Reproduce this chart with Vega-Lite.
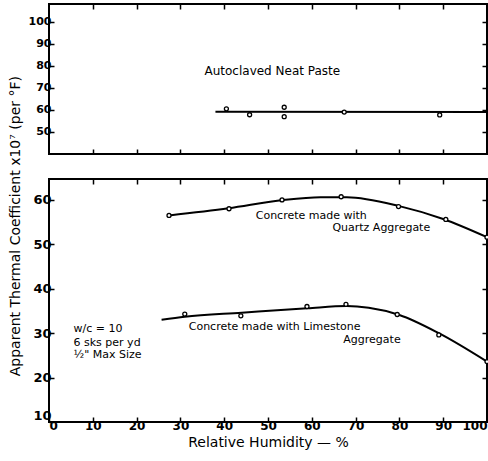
{
  "$schema": "https://vega.github.io/schema/vega-lite/v6.json",
  "background": "white",
  "padding": {"left": 9, "top": 2, "right": 0, "bottom": 0},
  "title": {"text": "Apparent  Thermal  Coefficient x10⁷ (per °F)", "orient": "left", "anchor": "middle", "fontSize": 14, "font": "DejaVu Sans", "fontWeight": "normal", "offset": 4},
  "config": {
    "view": {"stroke": "black", "strokeWidth": 2},
    "font": "DejaVu Sans",
    "axis": {"grid": false, "domain": false, "tickColor": "black", "tickSize": -5, "tickWidth": 1.5, "labelColor": "black", "labelFont": "DejaVu Sans", "labelFontSize": 12, "labelFontWeight": "bold", "labelPadding": 3, "titleColor": "black", "titleFont": "DejaVu Sans", "titleFontWeight": "normal", "titleFontSize": 14}
  },
  "datasets": {
    "topline": [{"rh": 38, "coef": 59.2}, {"rh": 100, "coef": 59.0}],
    "toppts": [
      {"rh": 40.5, "coef": 60.5}, {"rh": 45.8, "coef": 57.8}, {"rh": 53.7, "coef": 61.2},
      {"rh": 53.7, "coef": 56.9}, {"rh": 67.4, "coef": 59.0}, {"rh": 89.2, "coef": 57.7}
    ],
    "quartzcurve": [
      {"rh": 27.4, "coef": 56.5}, {"rh": 41, "coef": 58.1}, {"rh": 53, "coef": 59.9},
      {"rh": 62, "coef": 60.6}, {"rh": 68, "coef": 60.6}, {"rh": 80, "coef": 58.6},
      {"rh": 90, "coef": 55.7}, {"rh": 100, "coef": 51.6}
    ],
    "quartzpts": [
      {"rh": 27.4, "coef": 56.5}, {"rh": 41.1, "coef": 58.0}, {"rh": 53.2, "coef": 60.0},
      {"rh": 66.7, "coef": 60.7}, {"rh": 79.8, "coef": 58.5}, {"rh": 90.6, "coef": 55.6}, {"rh": 100, "coef": 51.6}
    ],
    "limecurve": [
      {"rh": 25.7, "coef": 33.0}, {"rh": 31, "coef": 33.7}, {"rh": 44, "coef": 34.6},
      {"rh": 59, "coef": 35.6}, {"rh": 68, "coef": 36.1}, {"rh": 73, "coef": 35.7},
      {"rh": 80, "coef": 34.1}, {"rh": 89, "coef": 30.0}, {"rh": 100, "coef": 23.6}
    ],
    "limepts": [
      {"rh": 31, "coef": 34.3}, {"rh": 43.8, "coef": 33.9}, {"rh": 58.9, "coef": 36.0},
      {"rh": 67.8, "coef": 36.5}, {"rh": 79.5, "coef": 34.2}, {"rh": 89, "coef": 29.6}, {"rh": 100, "coef": 23.6}
    ],
    "toplabels": [{"rh": 35.5, "coef": 77.7, "label": "Autoclaved  Neat  Paste"}],
    "botlabels": [
      {"rh": 47.2, "coef": 56.4, "label": "Concrete made with"},
      {"rh": 64.7, "coef": 53.7, "label": "Quartz Aggregate"},
      {"rh": 31.9, "coef": 31.3, "label": "Concrete made with Limestone"},
      {"rh": 67.2, "coef": 28.4, "label": "Aggregate"},
      {"rh": 5.6, "coef": 30.9, "label": "w/c = 10"},
      {"rh": 5.6, "coef": 27.8, "label": "6 sks per yd"},
      {"rh": 5.6, "coef": 25.0, "label": "½\" Max Size"}
    ]
  },
  "vconcat": [
    {
      "width": 438,
      "height": 150,
      "resolve": {"axis": {"x": "independent", "y": "independent"}},
      "layer": [
        {
          "data": {"name": "topline"},
          "mark": {"type": "line", "color": "black", "strokeWidth": 2},
          "encoding": {
            "x": {"field": "rh", "type": "quantitative", "scale": {"domain": [0, 100], "nice": false}, "axis": {"orient": "bottom", "labels": false, "title": null, "values": [10, 20, 30, 40, 50, 60, 70, 80, 90]}},
            "y": {"field": "coef", "type": "quantitative", "scale": {"domain": [40, 108], "nice": false}, "axis": {"orient": "left", "title": null, "values": [50, 60, 70, 80, 90, 100], "labelFontSize": 11}}
          }
        },
        {
          "data": {"name": "toppts"},
          "mark": {"type": "point", "shape": "circle", "size": 16, "color": "black", "fill": "white", "filled": true, "stroke": "black", "strokeWidth": 1.3, "opacity": 1},
          "encoding": {
            "x": {"field": "rh", "type": "quantitative", "scale": {"domain": [0, 100], "nice": false}, "axis": {"orient": "top", "labels": false, "title": null, "values": [10, 20, 30, 40, 50, 60, 70, 80, 90]}},
            "y": {"field": "coef", "type": "quantitative", "scale": {"domain": [40, 108], "nice": false}, "axis": {"orient": "right", "labels": false, "title": null, "values": [50, 60, 70, 80, 90, 100]}}
          }
        },
        {
          "data": {"name": "toplabels"},
          "mark": {"type": "text", "align": "left", "baseline": "middle", "fontSize": 12, "color": "black"},
          "encoding": {
            "x": {"field": "rh", "type": "quantitative", "scale": {"domain": [0, 100], "nice": false}, "axis": null},
            "y": {"field": "coef", "type": "quantitative", "scale": {"domain": [40, 108], "nice": false}, "axis": null},
            "text": {"field": "label"}
          }
        }
      ]
    },
    {
      "width": 438,
      "height": 243,
      "resolve": {"axis": {"x": "independent", "y": "independent"}},
      "layer": [
        {
          "data": {"name": "quartzcurve"},
          "mark": {"type": "line", "color": "black", "strokeWidth": 2, "interpolate": "monotone"},
          "encoding": {
            "x": {"field": "rh", "type": "quantitative", "scale": {"domain": [0, 100], "nice": false}, "axis": {"orient": "bottom", "title": "Relative Humidity — %", "values": [0, 10, 20, 30, 40, 50, 60, 70, 80, 90, 100], "titlePadding": 4, "labelFlush": true}},
            "y": {"field": "coef", "type": "quantitative", "scale": {"domain": [10, 64.7], "nice": false}, "axis": {"orient": "left", "title": null, "values": [10, 20, 30, 40, 50, 60], "labelFontSize": 13, "labelFlush": true}}
          }
        },
        {
          "data": {"name": "limecurve"},
          "mark": {"type": "line", "color": "black", "strokeWidth": 2, "interpolate": "monotone"},
          "encoding": {
            "x": {"field": "rh", "type": "quantitative", "scale": {"domain": [0, 100], "nice": false}, "axis": {"orient": "top", "labels": false, "title": null, "values": [10, 20, 30, 40, 50, 60, 70, 80, 90]}},
            "y": {"field": "coef", "type": "quantitative", "scale": {"domain": [10, 64.7], "nice": false}, "axis": {"orient": "right", "labels": false, "title": null, "values": [20, 30, 40, 50, 60]}}
          }
        },
        {
          "data": {"name": "quartzpts"},
          "mark": {"type": "point", "shape": "circle", "size": 16, "fill": "white", "filled": true, "stroke": "black", "strokeWidth": 1.3, "opacity": 1},
          "encoding": {
            "x": {"field": "rh", "type": "quantitative", "scale": {"domain": [0, 100], "nice": false}, "axis": null},
            "y": {"field": "coef", "type": "quantitative", "scale": {"domain": [10, 64.7], "nice": false}, "axis": null}
          }
        },
        {
          "data": {"name": "limepts"},
          "mark": {"type": "point", "shape": "circle", "size": 16, "fill": "white", "filled": true, "stroke": "black", "strokeWidth": 1.3, "opacity": 1},
          "encoding": {
            "x": {"field": "rh", "type": "quantitative", "scale": {"domain": [0, 100], "nice": false}, "axis": null},
            "y": {"field": "coef", "type": "quantitative", "scale": {"domain": [10, 64.7], "nice": false}, "axis": null}
          }
        },
        {
          "data": {"name": "botlabels"},
          "mark": {"type": "text", "align": "left", "baseline": "middle", "fontSize": 11, "color": "black"},
          "encoding": {
            "x": {"field": "rh", "type": "quantitative", "scale": {"domain": [0, 100], "nice": false}, "axis": null},
            "y": {"field": "coef", "type": "quantitative", "scale": {"domain": [10, 64.7], "nice": false}, "axis": null},
            "text": {"field": "label"}
          }
        }
      ]
    }
  ],
  "spacing": 21
}
